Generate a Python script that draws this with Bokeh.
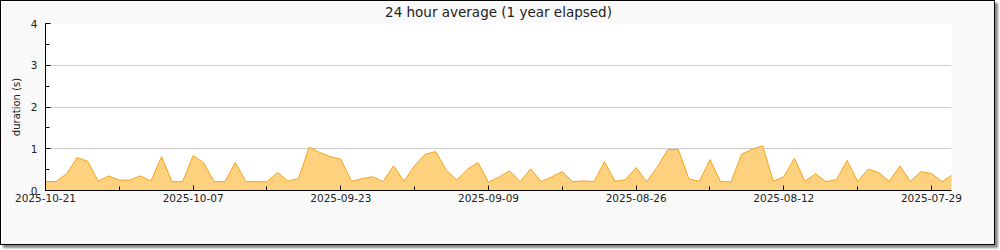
from datetime import datetime, timedelta
from bokeh.plotting import figure
from bokeh.models import (Range1d, FixedTicker, SingleIntervalTicker, DatetimeTickFormatter,
                          ColumnDataSource)
from bokeh.embed import file_html
from bokeh.resources import INLINE

# ---- data (newest first, one value per day) ----
first_day = "2025-10-21"
durations = [0.215, 0.215, 0.40, 0.79, 0.70, 0.22, 0.35, 0.25, 0.25, 0.35,
             0.23, 0.81, 0.21, 0.21, 0.84, 0.66, 0.21, 0.21, 0.67, 0.21,
             0.21, 0.21, 0.43, 0.22, 0.29, 1.04, 0.91, 0.81, 0.75, 0.22,
             0.28, 0.33, 0.21, 0.59, 0.22, 0.60, 0.87, 0.93, 0.49, 0.25,
             0.51, 0.67, 0.20, 0.32, 0.47, 0.21, 0.52, 0.21, 0.33, 0.45,
             0.21, 0.23, 0.21, 0.69, 0.22, 0.26, 0.55, 0.21, 0.56, 0.98,
             0.98, 0.28, 0.22, 0.74, 0.21, 0.21, 0.87, 0.99, 1.07, 0.22,
             0.33, 0.77, 0.22, 0.40, 0.21, 0.26, 0.72, 0.22, 0.51, 0.43,
             0.22, 0.59, 0.22, 0.45, 0.41, 0.21, 0.38]
major_tick_dates = ["2025-10-21", "2025-10-07", "2025-09-23", "2025-09-09",
                    "2025-08-26", "2025-08-12", "2025-07-29"]
minor_tick_dates = ["2025-10-14", "2025-09-30", "2025-09-16", "2025-09-02",
                    "2025-08-19", "2025-08-05"]
y_ticks_max = 4
title_text = "24 hour average (1 year elapsed)"
y_label = "duration (s)"

EPOCH = datetime(1970, 1, 1)
def ms(d):
    return (d - EPOCH).total_seconds() * 1000.0
def parse(s):
    return datetime.strptime(s, "%Y-%m-%d")

start = parse(first_day)
dates = [start - timedelta(days=i) for i in range(len(durations))]
src = ColumnDataSource(dict(x=dates, y=durations, y0=[0] * len(durations)))

p = figure(frame_width=906, frame_height=167, output_backend="svg", toolbar_location=None,
           x_axis_type="datetime",
           x_range=Range1d(ms(dates[0]), ms(dates[-1]) + 0.1 * 86400000),
           y_range=Range1d(0, y_ticks_max),
           min_border_left=44, min_border_right=43, min_border_top=22, min_border_bottom=54,
           title=title_text)

p.styles = {"border": "1px solid #000000", "box-shadow": "3px 3px 2px #8a8a8a"}
p.border_fill_color = "#f9f9f9"
p.background_fill_color = "#ffffff"
p.outline_line_color = None

p.title.align = "center"
p.title.vertical_align = "top"
p.title.text_font = "DejaVu Sans"
p.title.text_font_size = "13.5px"
p.title.text_font_style = "normal"
p.title.text_color = "#222222"
p.title.standoff = 3

p.varea(x="x", y1="y0", y2="y", source=src, fill_color="#fed17f", fill_alpha=1.0)
p.line(x="x", y="y", source=src, line_color="#f7a21b", line_width=1)

xa = p.xaxis[0]
xa.ticker = FixedTicker(ticks=[ms(parse(s)) for s in major_tick_dates],
                        minor_ticks=[ms(parse(s)) for s in minor_tick_dates])
fmt = "%Y-%m-%d"
xa.formatter = DatetimeTickFormatter(microseconds=fmt, milliseconds=fmt, seconds=fmt, minsec=fmt,
                                     minutes=fmt, hourmin=fmt, hours=fmt, days=fmt,
                                     months=fmt, years=fmt)
ya = p.yaxis[0]
ya.ticker = SingleIntervalTicker(interval=1, num_minor_ticks=2)
ya.axis_label = y_label

for ax in (xa, ya):
    ax.axis_line_color = "#000000"
    ax.major_tick_line_color = "#000000"
    ax.minor_tick_line_color = "#000000"
    ax.major_tick_in = 5
    ax.major_tick_out = 0
    ax.minor_tick_in = 4
    ax.minor_tick_out = 0
    ax.major_label_text_font = "DejaVu Sans"
    ax.major_label_text_font_size = "10.5px"
    ax.major_label_text_color = "#222222"
    ax.axis_label_text_font = "DejaVu Sans"
    ax.axis_label_text_font_size = "10px"
    ax.axis_label_text_font_style = "normal"
    ax.axis_label_text_color = "#222222"

xa.major_label_standoff = 3
ya.major_label_standoff = 8
ya.axis_label_standoff = 6

p.xgrid.grid_line_color = None
p.ygrid.grid_line_color = "#cccccc"
p.ygrid.grid_line_width = 1

open("out.html", "w").write(file_html(p, INLINE))
